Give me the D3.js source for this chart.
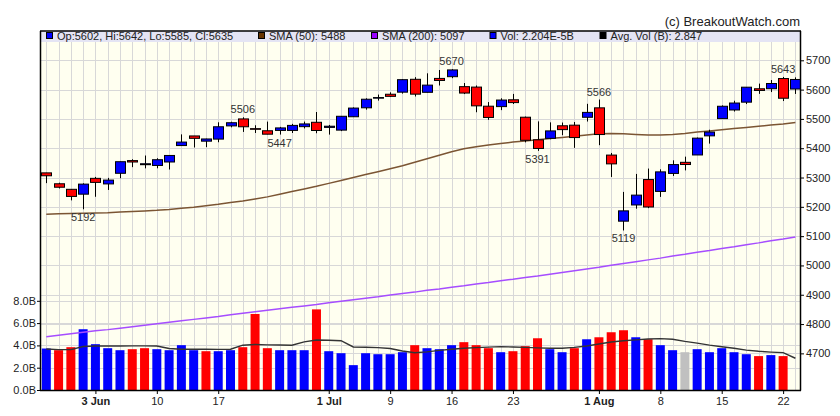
<!DOCTYPE html>
<html><head><meta charset="utf-8">
<script src="https://cdn.jsdelivr.net/npm/d3@7"></script>
<style>
body{margin:0;background:#fff}
svg{display:block;font-family:"Liberation Sans",Arial,sans-serif}
</style>
</head><body>
<svg id="chart" width="840" height="416"></svg>
<script>
// ---------- data ----------
const dates = ["2024-05-28","2024-05-29","2024-05-30","2024-05-31","2024-06-03","2024-06-04","2024-06-05","2024-06-06","2024-06-07",
"2024-06-10","2024-06-11","2024-06-12","2024-06-13","2024-06-14","2024-06-17","2024-06-18","2024-06-20","2024-06-21",
"2024-06-24","2024-06-25","2024-06-26","2024-06-27","2024-06-28","2024-07-01","2024-07-02","2024-07-03","2024-07-05",
"2024-07-08","2024-07-09","2024-07-10","2024-07-11","2024-07-12","2024-07-15","2024-07-16","2024-07-17","2024-07-18",
"2024-07-19","2024-07-22","2024-07-23","2024-07-24","2024-07-25","2024-07-26","2024-07-29","2024-07-30","2024-07-31",
"2024-08-01","2024-08-02","2024-08-05","2024-08-06","2024-08-07","2024-08-08","2024-08-09","2024-08-12","2024-08-13",
"2024-08-14","2024-08-15","2024-08-16","2024-08-19","2024-08-20","2024-08-21","2024-08-22","2024-08-23"];
const open  = [5315.9,5278.7,5259.8,5243.2,5297.2,5278.2,5314.5,5357.8,5343.8,5341.2,5353.0,5409.1,5441.9,5424.1,5431.1,5476.2,5500.0,5466.8,
5459.6,5460.7,5460.7,5473.6,5488.5,5471.1,5461.8,5507.4,5537.9,5572.75,5584.2,5591.3,5635.2,5590.8,5638.2,5644.1,5610.1,5608.6,
5543.4,5542.0,5565.3,5505.8,5428.7,5433.7,5476.6,5478.7,5505.6,5537.8,5376.6,5151.1,5206.4,5293.1,5252.6,5314.0,5351.9,5377.0,
5442.2,5501.1,5530.5,5557.2,5602.9,5603.1,5637.8,5602.0];
const high  = [5315.9,5282.3,5260.2,5280.3,5302.1,5298.8,5354.2,5362.4,5375.1,5365.8,5376.0,5447.3,5441.9,5432.4,5488.5,5490.4,5505.5,5478.3,
5490.8,5472.9,5483.1,5490.8,5523.6,5479.5,5509.7,5539.3,5570.3,5583.1,5590.75,5635.4,5642.45,5655.6,5666.9,5669.7,5622.5,5614.05,
5557.5,5570.4,5585.3,5508.0,5491.6,5488.3,5487.7,5489.5,5551.5,5566.2,5383.9,5250.9,5312.3,5330.6,5328.0,5358.7,5371.2,5436.5,
5463.2,5546.2,5562.0,5608.3,5620.5,5632.7,5643.2,5641.8];
const low   = [5280.9,5262.7,5222.1,5191.7,5234.3,5257.6,5297.6,5335.4,5331.3,5331.5,5327.3,5409.1,5402.5,5403.75,5420.4,5471.3,5455.6,5452.0,
5447.6,5446.6,5451.9,5467.5,5451.1,5446.5,5458.4,5507.4,5531.6,5562.5,5574.6,5586.4,5576.5,5590.4,5614.05,5639.0,5584.8,5522.8,
5497.0,5530.0,5550.9,5420.0,5390.95,5430.7,5444.4,5401.2,5491.1,5410.4,5302.0,5119.3,5193.6,5195.5,5233.85,5305.3,5324.4,5377.0,
5415.7,5501.1,5525.2,5550.7,5585.5,5591.6,5560.95,5585.2];
const close = [5306.0,5266.9,5235.5,5277.5,5283.4,5291.3,5354.0,5352.96,5346.99,5360.8,5375.3,5421.0,5433.7,5431.6,5473.2,5487.0,5473.2,5464.6,
5447.9,5469.3,5477.9,5482.9,5460.5,5475.1,5509.0,5537.0,5567.2,5572.85,5576.98,5633.9,5584.5,5615.35,5631.2,5667.2,5588.3,5544.6,
5505.0,5564.4,5555.7,5427.1,5399.2,5459.1,5463.5,5436.4,5522.3,5446.7,5346.6,5186.3,5240.0,5199.5,5319.3,5344.16,5344.39,5434.4,
5455.2,5543.2,5554.25,5608.25,5597.1,5620.85,5570.6,5634.6];
const prevClose0 = 5304.7;
const volume = [3.72,3.57,3.84,5.45,4.11,3.75,3.57,3.66,3.75,3.66,3.57,4.02,3.57,3.48,3.48,3.57,3.84,6.82,3.75,3.57,3.57,3.57,7.23,3.48,
3.30,2.23,3.30,3.21,3.21,3.39,4.02,3.75,3.66,4.02,4.29,4.02,3.75,3.39,3.48,3.93,4.64,3.66,3.39,3.75,4.55,4.73,5.18,5.36,4.73,4.55,
4.02,3.57,3.39,3.66,3.39,3.75,3.39,3.21,3.04,3.13,3.04,0.00002204];
const sma50 = [5175,5176,5177,5178,5179,5180,5182,5184,5186,5188,5191,5195,5199,5204,5209,5215,5220,5227,5234,5243,5252,5261,5270,5280,
5290,5300,5310,5320,5330,5340,5352,5364,5376,5388,5398,5405,5411,5416,5421,5425,5429,5433,5437,5441,5445,5449,5450,5449,5447,5445,
5445,5447,5450,5455,5459,5463,5467,5471,5475,5479,5483,5488];
const sma200 = [4757,4762,4767,4772,4777,4781,4786,4791,4796,4801,4806,4811,4816,4821,4826,4832,4837,4842,4847,4852,4857,4862,4867,4873,
4878,4883,4888,4893,4899,4904,4909,4915,4920,4926,4931,4937,4942,4948,4953,4959,4964,4970,4976,4982,4988,4994,5001,5007,5013,5019,
5025,5032,5038,5045,5051,5058,5064,5071,5077,5084,5090,5097];
const avgVol = [3.68,3.62,3.62,3.90,3.95,3.95,3.95,3.96,3.96,3.95,3.72,3.66,3.65,3.65,3.64,3.66,4.02,4.08,4.05,4.03,4.02,4.32,4.48,4.46,
4.42,3.86,3.84,3.80,3.72,3.50,3.34,3.42,3.55,3.65,3.74,3.80,3.85,3.89,3.86,3.82,3.78,3.75,3.74,3.82,3.95,4.12,4.30,4.42,4.50,4.58,
4.61,4.55,4.36,4.20,4.02,3.88,3.75,3.58,3.47,3.40,3.35,2.847];
const priceTicks = [4700,4800,4900,5000,5100,5200,5300,5400,5500,5600,5700];
const volTicks = [0,2,4,6,8];
const xTickDates  = ["2024-06-03","2024-06-10","2024-06-17","2024-07-01","2024-07-09","2024-07-16","2024-07-23","2024-08-01","2024-08-08","2024-08-15","2024-08-22"];
const xTickLabels = ["3 Jun","10","17","1 Jul","9","16","23","1 Aug","8","15","22"];
const monthTicks  = ["3 Jun","1 Jul","1 Aug"];
const peakIdx   = [16,33,45,60];
const troughIdx = [3,19,40,47];
const legendItems = [
  {color:"#0000ff", text:"Op:5602, Hi:5642, Lo:5585, Cl:5635"},
  {color:"#663300", text:"SMA (50): 5488"},
  {color:"#9900ff", text:"SMA (200): 5097"},
  {color:"#0000ff", text:"Vol: 2.204E-5B"},
  {color:"#000000", text:"Avg. Vol (B): 2.847"}
];

// ---------- layout ----------
const L = 41, R = 800, T = 31, B = 390;
const svg = d3.select("#chart");
const x = d3.scalePoint().domain(dates).range([46.3, 795.4]);
const y = d3.scaleLinear().domain([4575, 5800]).range([B, T]);
const yv = d3.scaleLinear().domain([0, 32.2]).range([B, T]);
const idx = d3.range(dates.length);

svg.append("rect").attr("x",L).attr("y",T).attr("width",R-L).attr("height",B-T).attr("fill","#fffff0");

// grid
const grid = svg.append("g").attr("stroke","#d8d8d8").attr("stroke-width",1);
grid.selectAll(".vg").data(dates).join("line")
  .attr("x1",d=>Math.round(x(d))+0.5).attr("x2",d=>Math.round(x(d))+0.5).attr("y1",T).attr("y2",B);
grid.selectAll(".hg").data(priceTicks).join("line")
  .attr("x1",L).attr("x2",R).attr("y1",d=>Math.round(y(d))+0.5).attr("y2",d=>Math.round(y(d))+0.5);
grid.selectAll(".hv").data(volTicks.slice(1)).join("line")
  .attr("x1",L).attr("x2",R).attr("y1",d=>Math.round(yv(d))+0.5).attr("y2",d=>Math.round(yv(d))+0.5);

// legend band
svg.append("rect").attr("x",L).attr("y",T).attr("width",R-L).attr("height",11).attr("fill","#e4e4f4");

// volume bars
const volColor = i => {
  const pc = i === 0 ? prevClose0 : close[i-1];
  const d = close[i] - pc;
  return Math.abs(d) < 0.5 ? "#c0c0c0" : (d > 0 ? "#0000ff" : "#ff0000");
};
svg.append("g").selectAll("rect").data(idx).join("rect")
  .attr("x",i=>x(dates[i])-4.5).attr("width",9)
  .attr("y",i=>yv(volume[i])).attr("height",i=>B-yv(volume[i]))
  .attr("fill",volColor);

// lines
const mkLine = (arr, sc) => d3.line().x(i=>x(dates[i])).y(i=>sc(arr[i]));
svg.append("path").attr("d",mkLine(avgVol,yv)(idx)).attr("fill","none").attr("stroke","#333").attr("stroke-width",1.4);
svg.append("path").attr("d",mkLine(sma200,y)(idx)).attr("fill","none").attr("stroke","#a64dff").attr("stroke-width",1.5);
svg.append("path").attr("d",mkLine(sma50,y)(idx)).attr("fill","none").attr("stroke","#7b5533").attr("stroke-width",1.5);

// candles
const cg = svg.append("g");
cg.selectAll(".wick").data(idx).join("line")
  .attr("x1",i=>Math.round(x(dates[i]))+0.5).attr("x2",i=>Math.round(x(dates[i]))+0.5)
  .attr("y1",i=>y(high[i])).attr("y2",i=>y(low[i])).attr("stroke","#000").attr("stroke-width",1);
cg.selectAll(".body").data(idx).join("rect")
  .attr("x",i=>Math.round(x(dates[i]))-4.5).attr("width",10)
  .attr("y",i=>y(Math.max(open[i],close[i])))
  .attr("height",i=>Math.max(0.6, Math.abs(y(open[i])-y(close[i]))))
  .attr("fill",i=>close[i] >= open[i] ? "#0000ff" : "#ff0000")
  .attr("stroke","#000").attr("stroke-width",1);

// peak / trough labels
const lab = svg.append("g").attr("font-size","11px").attr("fill","#333").attr("text-anchor","middle");
lab.selectAll(".pk").data(peakIdx).join("text")
  .attr("x",i=>x(dates[i])).attr("y",i=>y(high[i])-4).text(i=>Math.round(high[i]));
lab.selectAll(".tr").data(troughIdx).join("text")
  .attr("x",i=>x(dates[i])).attr("y",i=>y(low[i])+12).text(i=>Math.round(low[i]));

// axes
const ax = g => { g.select(".domain").remove(); g.selectAll("text").attr("fill","#222").attr("font-size","11px"); g.selectAll("line").attr("stroke","#000"); };
svg.append("g").attr("transform",`translate(${R},0)`)
  .call(d3.axisRight(y).tickValues(priceTicks).tickSize(4).tickPadding(2).tickFormat(d3.format("d")))
  .attr("font-family",null).call(ax);
svg.append("g").attr("transform",`translate(${L},0)`)
  .call(d3.axisLeft(yv).tickValues(volTicks).tickSize(4).tickPadding(1).tickFormat(d=>d.toFixed(1)+"B"))
  .attr("font-family",null).call(ax);
const xb = svg.append("g").attr("transform",`translate(0,${B})`)
  .call(d3.axisBottom(x).tickValues(xTickDates).tickSize(4).tickPadding(3).tickFormat((d,i)=>xTickLabels[i]))
  .attr("font-family",null).call(ax);
xb.selectAll("text").attr("font-weight",(d,i)=>monthTicks.includes(xTickLabels[i]) ? "bold" : "normal");

// frame
const fr = svg.append("g").attr("stroke","#000").attr("fill","none");
fr.append("line").attr("x1",L-0.5).attr("x2",L-0.5).attr("y1",T).attr("y2",B+0.5).attr("stroke-width",1.5);
fr.append("line").attr("x1",R+0.5).attr("x2",R+0.5).attr("y1",T).attr("y2",B+0.5).attr("stroke-width",1.5);
fr.append("line").attr("x1",L-1).attr("x2",R+1).attr("y1",B+0.5).attr("y2",B+0.5).attr("stroke-width",1.5);
fr.append("line").attr("x1",L-1).attr("x2",R+1).attr("y1",T).attr("y2",T).attr("stroke-width",1.5);

// legend
const lx = [46, 258, 371, 489.5, 599.5];
const lg = svg.append("g").attr("font-size","11px").attr("fill","#222");
lg.selectAll("rect").data(legendItems).join("rect")
  .attr("x",(d,i)=>lx[i]+0.5).attr("y",32.5).attr("width",6).attr("height",6)
  .attr("fill",d=>d.color).attr("stroke","#000").attr("stroke-width",1);
lg.selectAll("text").data(legendItems).join("text")
  .attr("x",(d,i)=>lx[i]+11).attr("y",40).text(d=>d.text);

svg.append("text").attr("x",R).attr("y",25.5).attr("text-anchor","end")
  .attr("font-size","13px").attr("fill","#222").text("(c) BreakoutWatch.com");
</script>
</body></html>
